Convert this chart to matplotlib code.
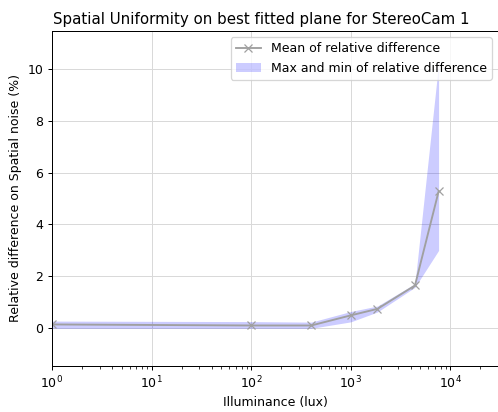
import matplotlib
matplotlib.use("Agg")
import matplotlib.pyplot as plt

illuminance = [1, 100, 400, 1000, 1850, 4400, 7600]
mean_diff = [0.15, 0.11, 0.11, 0.50, 0.75, 1.65, 5.27]
max_diff = [0.28, 0.26, 0.24, 0.65, 0.86, 1.72, 10.2]
min_diff = [0.0, 0.0, 0.0, 0.25, 0.63, 1.58, 3.0]

DPI = 90
fig = plt.figure(figsize=(498 / DPI, 412 / DPI), dpi=DPI)
ax = fig.add_axes([52 / 498, (412 - 366) / 412, 446 / 498, (366 - 31) / 412])

ax.plot(illuminance, mean_diff, color="#a0a0a0", marker="x", label="Mean of relative difference")
ax.fill_between(illuminance, min_diff, max_diff, color="blue", alpha=0.2,
                linewidth=0, label="Max and min of relative difference")
ax.set_xscale("log")
ax.set_xlim(1, 30000)
ax.set_ylim(-1.45, 11.45)
ax.grid(True, color="#d9d9d9")
ax.set_axisbelow(True)
ax.set_xlabel("Illuminance (lux)")
ax.set_ylabel("Relative difference on Spatial noise (%)")
ax.set_title("Spatial Uniformity on best fitted plane for StereoCam 1", x=(261 - 52) / 446)
ax.legend(loc="upper right")

fig.savefig("out.png", dpi=DPI)
